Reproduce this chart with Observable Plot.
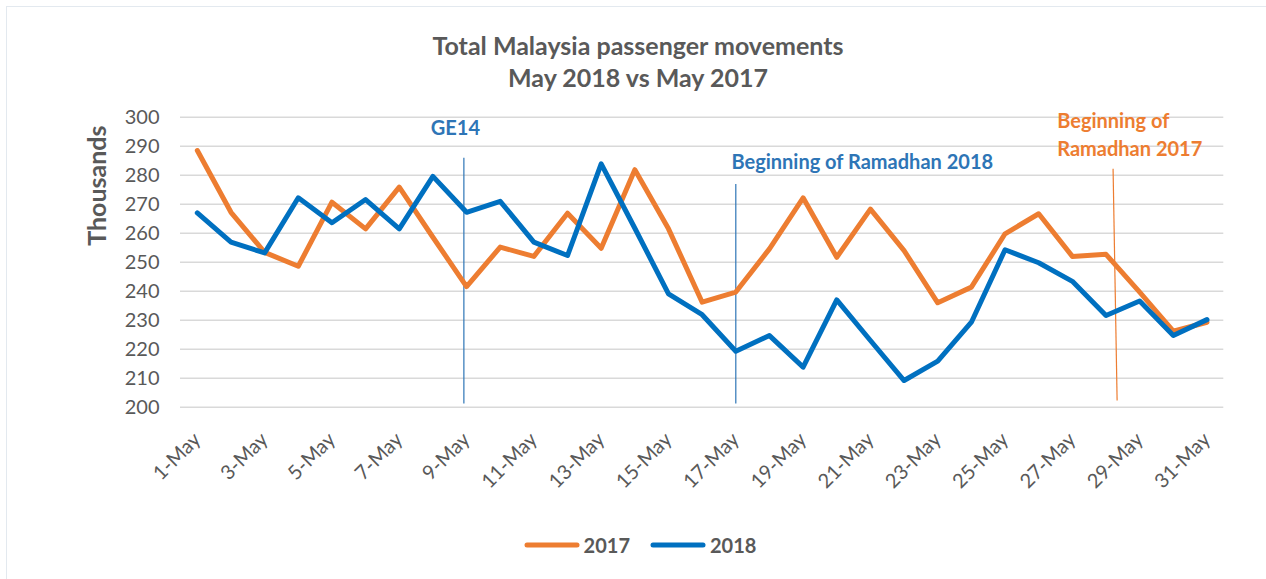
<!DOCTYPE html>
<html>
<head>
<meta charset="utf-8">
<script src="https://cdn.jsdelivr.net/npm/d3@7"></script>
<script src="https://cdn.jsdelivr.net/npm/@observablehq/plot@0.6"></script>
<style>
  body { margin: 0; background: #fff; font-family: Lato, "Open Sans", sans-serif; }
  #wrap { position: relative; width: 1266px; height: 579px; overflow: hidden; }
  #frame { position: absolute; left: 6px; top: 6px; width: 1300px; height: 600px; border: 1px solid #e3e9ef; box-sizing: border-box; }
  #title { position: absolute; left: 0; top: 29px; width: 1266px; text-align: center; font-weight: bold; font-size: 25px; line-height: 32px; color: #595959; padding-left: 10px; box-sizing: border-box; }
  #chart { position: absolute; left: 0; top: 93px; }
  #legend { position: absolute; left: 0; top: 533px; width: 1266px; height: 24px; display: flex; justify-content: center; align-items: center; font-weight: bold; font-size: 20px; color: #595959; padding-left: 14px; box-sizing: border-box; }
  .item { display: flex; align-items: center; margin: 0 10px; }
  .item svg { margin-right: 4px; }
</style>
</head>
<body>
<div id="wrap">
  <div id="frame"></div>
  <div id="title">Total Malaysia passenger movements<br>May 2018 vs May 2017</div>
  <div id="chart"></div>
  <div id="legend"></div>
</div>
<script>
const days = [1,2,3,4,5,6,7,8,9,10,11,12,13,14,15,16,17,18,19,20,21,22,23,24,25,26,27,28,29,30,31];
const v2017 = [288.5,267.2,253.4,248.6,270.7,261.5,275.9,258.6,241.6,255.2,252.0,266.9,254.8,281.9,261.5,236.2,239.7,254.6,272.2,251.7,268.3,254.0,236.0,241.4,259.8,266.7,252.0,252.7,239.7,226.2,229.3];
const v2018 = [267.0,256.9,253.2,272.2,263.6,271.6,261.5,279.6,267.2,271.0,256.9,252.3,283.9,261.7,239.1,231.9,219.3,224.7,213.8,237.0,223.0,209.2,215.9,229.3,254.3,249.8,243.4,231.6,236.6,224.7,230.2];
const tickDays = [1,3,5,7,9,11,13,15,17,19,21,23,25,27,29,31];
const tickLabels = ["1-May","3-May","5-May","7-May","9-May","11-May","13-May","15-May","17-May","19-May","21-May","23-May","25-May","27-May","29-May","31-May"];
const yTicks = [200,210,220,230,240,250,260,270,280,290,300];
const seriesNames = ["2017","2018"];
const seriesColors = ["#ED7D31","#0070C0"];

const rows = [];
days.forEach((d,i) => {
  rows.push({day: d, value: v2017[i], series: "2017"});
});
days.forEach((d,i) => {
  rows.push({day: d, value: v2018[i], series: "2018"});
});

const blue = "#2E75B6";
const orange = "#ED7D31";
const annoFont = {fontFamily: "Lato", fontWeight: "bold", fontSize: 20};

const chart = Plot.plot({
  width: 1266,
  height: 420,
  marginTop: 23.7,
  marginBottom: 106.3,
  marginLeft: 180,
  marginRight: 42.7,
  x: {domain: [0.5, 31.5]},
  y: {domain: [200, 300]},
  color: {domain: seriesNames, range: seriesColors},
  style: {fontFamily: "Lato", color: "#595959", background: "transparent", overflow: "visible"},
  marks: [
    Plot.ruleY(yTicks, {stroke: "#d9d9d9", strokeWidth: 1.5}),
    Plot.axisY({ticks: yTicks, tickSize: 0, tickPadding: 21, fontSize: 20, label: null, fill: "#595959"}),
    Plot.axisX({ticks: tickDays, tickFormat: d => tickLabels[tickDays.indexOf(d)], tickRotate: -45, tickSize: 0, tickPadding: 29, fontSize: 20, label: null, fill: "#595959"}),
    Plot.text(["Thousands"], {frameAnchor: "left", y: 276.4, dx: -83, rotate: -90, textAnchor: "middle", fontSize: 25, fontWeight: "bold", fill: "#595959", fontFamily: "Lato"}),
    // event lines
    Plot.link([{x1: 8.92, y1: 201.3, x2: 8.92, y2: 286.0}], {x1: "x1", y1: "y1", x2: "x2", y2: "y2", stroke: blue, strokeWidth: 1.2}),
    Plot.link([{x1: 17, y1: 201.3, x2: 17, y2: 277.0}], {x1: "x1", y1: "y1", x2: "x2", y2: "y2", stroke: blue, strokeWidth: 1.2}),
    Plot.link([{x1: 28.21, y1: 282.2, x2: 28.33, y2: 202.3}], {x1: "x1", y1: "y1", x2: "x2", y2: "y2", stroke: orange, strokeWidth: 1.2}),
    // series lines
    Plot.line(rows, {x: "day", y: "value", z: "series", stroke: "series", strokeWidth: 5, strokeLinejoin: "round", strokeLinecap: "round"}),
    // annotations
    Plot.text(["GE14"], {x: 8.67, y: 296.1, fill: blue, ...annoFont}),
    Plot.text(["Beginning of Ramadhan 2018"], {x: 16.87, y: 284.4, textAnchor: "start", fill: blue, ...annoFont}),
    Plot.text(["Beginning of"], {x: 26.55, y: 298.5, textAnchor: "start", fill: orange, ...annoFont}),
    Plot.text(["Ramadhan 2017"], {x: 26.55, y: 288.9, textAnchor: "start", fill: orange, ...annoFont})
  ]
});
document.getElementById("chart").appendChild(chart);

const legend = document.getElementById("legend");
seriesNames.forEach((name, i) => {
  const item = document.createElement("div");
  item.className = "item";
  item.innerHTML = `<svg width="56" height="10"><line x1="3" y1="5" x2="53" y2="5" stroke="${seriesColors[i]}" stroke-width="5" stroke-linecap="round"/></svg><span>${name}</span>`;
  legend.appendChild(item);
});
</script>
</body>
</html>
